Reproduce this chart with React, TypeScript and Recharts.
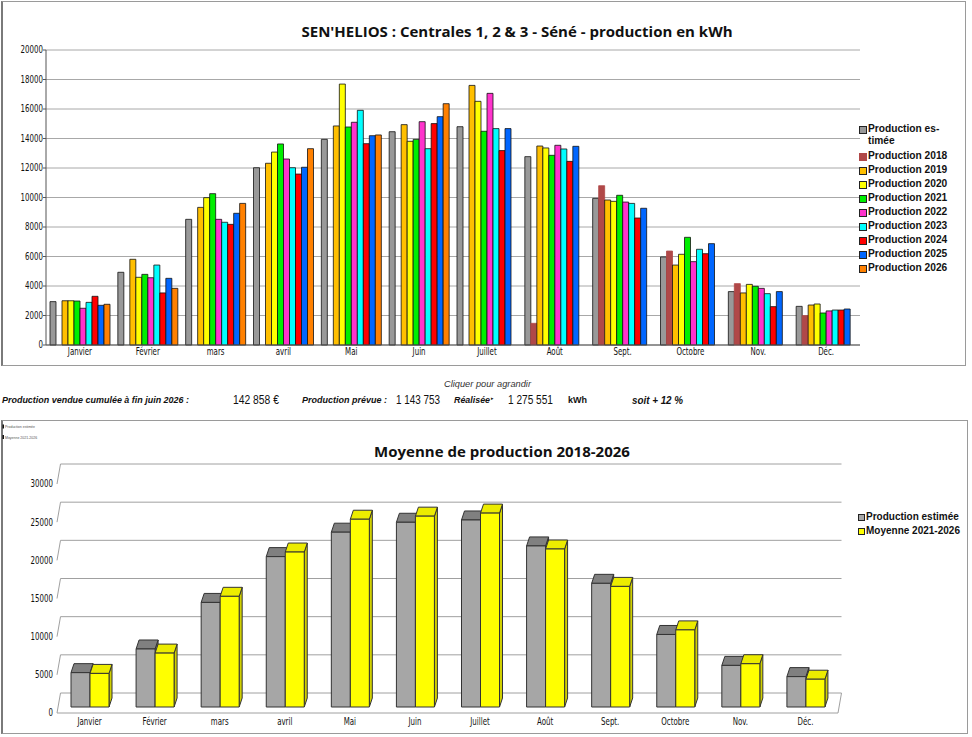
import React from 'react';
import { BarChart, Bar, XAxis, YAxis, CartesianGrid } from 'recharts';

const months = ['Janvier', 'Février', 'mars', 'avril', 'Mai', 'Juin', 'Juillet', 'Août', 'Sept.', 'Octobre', 'Nov.', 'Déc.'];

// production mensuelle en kWh (graphique du haut)
const prodEstimee = [2940, 4930, 8520, 12020, 13940, 14460, 14800, 12770, 9940, 5970, 3620, 2620];
const prod2018 = [null, null, null, null, null, null, null, 1470, 10800, 6370, 4160, 1990];
const prod2019 = [3000, 5810, 9330, 12320, 14850, 14940, 17600, 13490, 9830, 5420, 3530, 2710];
const prod2020 = [3000, 4590, 9990, 13080, 17690, 13810, 16520, 13360, 9740, 6150, 4110, 2780];
const prod2021 = [2980, 4790, 10260, 13630, 14780, 13940, 14490, 12860, 10150, 7300, 3980, 2170];
const prod2022 = [2490, 4560, 8520, 12610, 15100, 15140, 17060, 13540, 9690, 5650, 3840, 2310];
const prod2023 = [2890, 5420, 8320, 12020, 15910, 13310, 14670, 13290, 9600, 6490, 3480, 2370];
const prod2024 = [3300, 3530, 8180, 11590, 13650, 15010, 13180, 12450, 8610, 6190, 2600, 2370];
const prod2025 = [2690, 4520, 8930, 12050, 14190, 15480, 14670, 13470, 9270, 6870, 3620, 2440];
const prod2026 = [2760, 3840, 9600, 13310, 14240, 16360, null, null, null, null, null, null];

const topTicks = [0, 2000, 4000, 6000, 8000, 10000, 12000, 14000, 16000, 18000, 20000];

// moyennes (graphique du bas)
const moyEstimee = [4500, 7600, 13700, 19700, 22900, 24200, 24500, 21100, 16200, 9500, 5450, 3980];
const moy2021_2026 = [4400, 7060, 14500, 20300, 24600, 25000, 25400, 20700, 15800, 10100, 5670, 3640];
const bottomTicks = [0, 5000, 10000, 15000, 20000, 25000, 30000];

const topSeries = [
  { key: 'est', name: 'Production es-\ntimée', values: prodEstimee, color: '#999999', stroke: '#111' },
  { key: 'p2018', name: 'Production 2018', values: prod2018, color: '#b04848', stroke: '#b04848' },
  { key: 'p2019', name: 'Production 2019', values: prod2019, color: '#ffbf00', stroke: '#111' },
  { key: 'p2020', name: 'Production 2020', values: prod2020, color: '#ffff00', stroke: '#111' },
  { key: 'p2021', name: 'Production 2021', values: prod2021, color: '#00ee00', stroke: '#111' },
  { key: 'p2022', name: 'Production 2022', values: prod2022, color: '#ff33cc', stroke: '#111' },
  { key: 'p2023', name: 'Production 2023', values: prod2023, color: '#00ffff', stroke: '#111' },
  { key: 'p2024', name: 'Production 2024', values: prod2024, color: '#ff0000', stroke: '#111' },
  { key: 'p2025', name: 'Production 2025', values: prod2025, color: '#0066ff', stroke: '#111' },
  { key: 'p2026', name: 'Production 2026', values: prod2026, color: '#ff8000', stroke: '#111' },
];

const topRows = months.map((m, i) => {
  const row: any = { month: m };
  topSeries.forEach(s => { row[s.key] = s.values[i]; });
  return row;
});

const bottomRows = months.map((m, i) => ({ month: m, est: moyEstimee[i], moy: moy2021_2026[i] }));

const tickFont = "'DejaVu Sans Condensed', 'DejaVu Sans', sans-serif";

// libellés d'axe resserrés (police étroite)
function NarrowTick(props: any) {
  const { x, y, payload, anchor, dy } = props;
  return (
    <g transform={`translate(${x},${y})`}>
      <text transform="scale(0.8,1)" textAnchor={anchor} dy={dy} fontFamily={tickFont} fontSize={9.8} fill="#111">
        {payload.value}
      </text>
    </g>
  );
}

// barre en pseudo-3D : face avant, dessus, côté
function Box3D(props: any) {
  const { x, y, width, height, front, top, side } = props;
  if (!height || height <= 0) return null;
  const lift = 6, dx = 3, dy = 9;
  const y0 = y - lift;
  const w = width;
  return (
    <g stroke="#333" strokeWidth={1} strokeLinejoin="round">
      <polygon points={`${x + w},${y0} ${x + w + dx},${y0 - dy} ${x + w + dx},${y0 + height - dy} ${x + w},${y0 + height}`} fill={side} />
      <polygon points={`${x},${y0} ${x + dx},${y0 - dy} ${x + w + dx},${y0 - dy} ${x + w},${y0}`} fill={top} />
      <rect x={x} y={y0} width={w} height={height} fill={front} />
    </g>
  );
}

// lignes de fond en perspective (mur du fond + mur gauche + sol)
function BackLine(props: any) {
  const { x1, y1, x2, y2, y, height } = props;
  const bx = 3.5, by = 20;
  const isFloor = Math.abs(y1 - (y + height)) < 1;
  return (
    <g key={`bl-${y1}`} stroke="#a0a0a0" strokeWidth={1} fill="none">
      <line x1={x1 + bx} y1={y1 - by} x2={x2 + bx} y2={y2 - by} />
      <line x1={x1 + bx} y1={y1 - by} x2={x1} y2={y1} />
      {isFloor && <line x1={x1} y1={y1} x2={x2} y2={y2} />}
      {isFloor && <line x1={x2} y1={y2} x2={x2 + bx} y2={y2 - by} />}
    </g>
  );
}

function TopLegend() {
  return (
    <div style={{ position: 'absolute', left: 859, top: 123, fontFamily: 'Liberation Sans, sans-serif', fontWeight: 'bold', fontSize: 10.2, color: '#111' }}>
      {topSeries.map((s, i) => {
        const lines = s.name.split('\n');
        return (
          <div key={s.key} style={{ position: 'relative', paddingLeft: 9, lineHeight: '12px', marginBottom: i === 0 ? 3 : 2 }}>
            <span style={{ position: 'absolute', left: 0, top: 3, width: 6, height: 6, background: s.color, border: `1px solid ${s.key === 'p2018' ? s.color : '#222'}`, boxSizing: 'content-box' }} />
            {lines.map((l, j) => <div key={j}>{l}</div>)}
          </div>
        );
      })}
    </div>
  );
}

function MiddleText() {
  const bi = { fontFamily: 'Liberation Sans, sans-serif', fontWeight: 'bold', fontStyle: 'italic', fontSize: 9.5, fill: '#111' } as const;
  const num = { fontFamily: 'Liberation Sans, sans-serif', fontSize: 12, fill: '#111' } as const;
  return (
    <svg width={972} height={50} style={{ position: 'absolute', left: 0, top: 370 }}>
      <text x={444} y={16.5} textLength={87} lengthAdjust="spacingAndGlyphs" style={{ fontFamily: 'Liberation Sans, sans-serif', fontStyle: 'italic', fontSize: 9, fill: '#333' }}>Cliquer pour agrandir</text>
      <text x={2} y={32.5} textLength={187} lengthAdjust="spacingAndGlyphs" style={bi}>Production vendue cumulée à fin juin 2026 :</text>
      <text x={233} y={33.5} textLength={46} lengthAdjust="spacingAndGlyphs" style={num}>142 858 €</text>
      <text x={302} y={32.5} textLength={85} lengthAdjust="spacingAndGlyphs" style={bi}>Production prévue :</text>
      <text x={396} y={33.5} textLength={44} lengthAdjust="spacingAndGlyphs" style={num}>1 143 753</text>
      <text x={454} y={32.5} textLength={36} lengthAdjust="spacingAndGlyphs" style={bi}>Réalisée</text>
      <text x={491} y={30} style={{ fontSize: 5, fill: '#111' }}>▸</text>
      <text x={508} y={33.5} textLength={45} lengthAdjust="spacingAndGlyphs" style={num}>1 275 551</text>
      <text x={568} y={33} textLength={19} lengthAdjust="spacingAndGlyphs" style={{ fontFamily: 'Liberation Sans, sans-serif', fontWeight: 'bold', fontSize: 9.5, fill: '#111' }}>kWh</text>
      <text x={632} y={33.5} textLength={51} lengthAdjust="spacingAndGlyphs" style={{ ...bi, fontSize: 11.5 }}>soit + 12 %</text>
    </svg>
  );
}

export default function App() {
  return (
    <div style={{ position: 'absolute', left: 0, top: 0, width: 972, height: 737, background: '#fff', overflow: 'hidden' }}>
      {/* cadres */}
      <div style={{ position: 'absolute', left: 1, top: 1, width: 965, height: 365, boxSizing: 'border-box', border: '1px solid #9a9a9a', borderLeft: '2px solid #7a7a7a' }} />
      <div style={{ position: 'absolute', left: 1, top: 420, width: 967, height: 314, boxSizing: 'border-box', border: '1px solid #9a9a9a', borderLeft: '2px solid #7a7a7a' }} />

      {/* graphique du haut */}
      <div style={{ position: 'absolute', left: 0, top: 0 }}>
        <BarChart width={972} height={366} data={topRows} margin={{ top: 50, right: 112, left: 6, bottom: 5 }} barCategoryGap={4} barGap={0}>
          <CartesianGrid vertical={false} stroke="#a8a8a8" />
          <XAxis dataKey="month" height={16} axisLine={{ stroke: '#555' }} tickLine={false} tickSize={0} tickMargin={3} interval={0}
            tick={(p: any) => <NarrowTick {...p} anchor="middle" dy="0.71em" />} />
          <YAxis width={40} domain={[0, 20000]} ticks={topTicks} interval={0} axisLine={{ stroke: '#555' }} tickLine={{ stroke: '#555' }} tickSize={3} tickMargin={0}
            tick={(p: any) => <NarrowTick {...p} anchor="end" dy="0.355em" />} />
          {topSeries.map(s => (
            <Bar key={s.key} dataKey={s.key} name={s.name} fill={s.color} stroke={s.stroke} strokeWidth={0.8} isAnimationActive={false} />
          ))}
        </BarChart>
      </div>
      <div style={{ position: 'absolute', left: 0, width: 1034, top: 21, textAlign: 'center', fontFamily: "'Open Sans', sans-serif", fontWeight: 'bold', fontSize: 15, color: '#111', whiteSpace: 'nowrap' }}>
        SEN'HELIOS : Centrales 1, 2 &amp; 3 - Séné - production en kWh
      </div>
      <TopLegend />

      <MiddleText />

      {/* petite légende résiduelle */}
      <svg width={40} height={20} style={{ position: 'absolute', left: 2, top: 423 }}>
        <rect x={0.5} y={1.5} width={1.5} height={4} fill="#111" />
        <text x={3} y={5} style={{ fontFamily: 'Liberation Sans, sans-serif', fontSize: 3.5, fill: '#555' }}>Production estimée</text>
        <rect x={0.5} y={12} width={1.5} height={4} fill="#111" />
        <text x={3} y={15.5} style={{ fontFamily: 'Liberation Sans, sans-serif', fontSize: 3.5, fill: '#555' }}>Moyenne 2021-2026</text>
      </svg>

      {/* graphique du bas */}
      <div style={{ position: 'absolute', left: 0, top: 420 }}>
        <BarChart width={972} height={317} data={bottomRows} margin={{ top: 64, right: 134, left: 17, bottom: 8 }} barCategoryGap={14} barGap={0}>
          <CartesianGrid vertical={false} horizontal={(p: any) => <BackLine {...p} />} />
          <XAxis dataKey="month" height={16} axisLine={false} tickLine={false} tickSize={0} tickMargin={5} interval={0}
            tick={(p: any) => <NarrowTick {...p} anchor="middle" dy="0.71em" />} />
          <YAxis width={40} domain={[0, 30000]} ticks={bottomTicks} interval={0} axisLine={false} tickLine={false} tickSize={0} tickMargin={4}
            tick={(p: any) => <NarrowTick {...p} anchor="end" dy="0.355em" />} />
          <Bar dataKey="est" name="Production estimée" fill="#a6a6a6" isAnimationActive={false}
            shape={(p: any) => <Box3D {...p} front="#a6a6a6" top="#808080" side="#8c8c8c" />} />
          <Bar dataKey="moy" name="Moyenne 2021-2026" fill="#ffff00" isAnimationActive={false}
            shape={(p: any) => <Box3D {...p} front="#ffff00" top="#ecec00" side="#d0d000" />} />
        </BarChart>
      </div>
      <div style={{ position: 'absolute', left: 0, width: 1004, top: 441, textAlign: 'center', fontFamily: "'Open Sans', sans-serif", fontWeight: 'bold', fontSize: 15, color: '#111', whiteSpace: 'nowrap' }}>
        Moyenne de production 2018-2026
      </div>
      <div style={{ position: 'absolute', left: 858, top: 510, fontFamily: 'Liberation Sans, sans-serif', fontSize: 10, fontWeight: 600, color: '#111', lineHeight: '14px' }}>
        {[{ n: 'Production estimée', c: '#a6a6a6' }, { n: 'Moyenne 2021-2026', c: '#ffff00' }].map(e => (
          <div key={e.n} style={{ position: 'relative', paddingLeft: 8, whiteSpace: 'nowrap' }}>
            <span style={{ position: 'absolute', left: 0, top: 4, width: 5, height: 5, background: e.c, border: '1px solid #222', boxSizing: 'content-box' }} />
            {e.n}
          </div>
        ))}
      </div>
    </div>
  );
}
